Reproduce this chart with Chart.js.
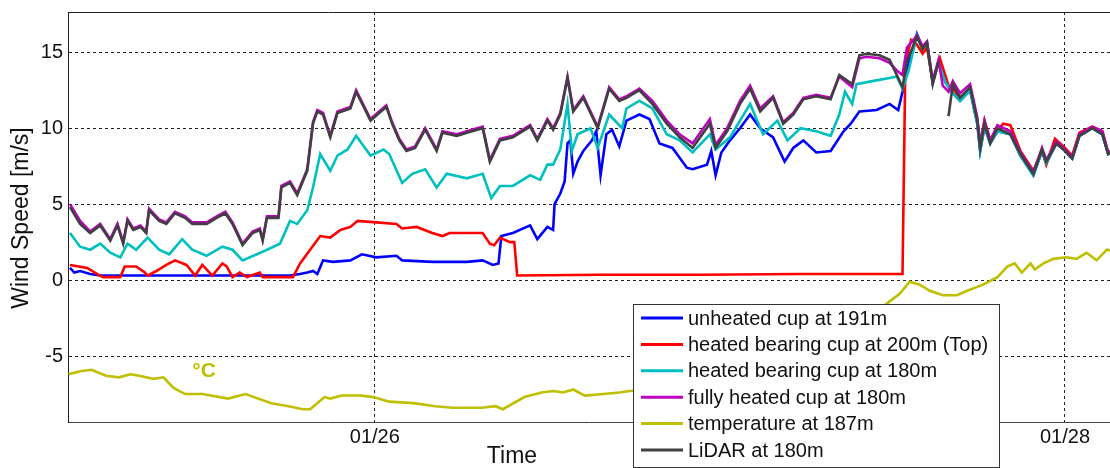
<!DOCTYPE html>
<html>
<head>
<meta charset="utf-8">
<script src="https://cdn.jsdelivr.net/npm/chart.js@4.4.0/dist/chart.umd.min.js"></script>
<style>
  html, body { margin: 0; padding: 0; background: #fff; }
  canvas { display: block; }
</style>
</head>
<body>
<canvas id="wind" width="1110" height="468"></canvas>
<script>
// time in hours since 01/25 00:00
const xTicks = [24, 72];
const xTickLabels = ['01/26', '01/28'];
const yTicks = [-5, 0, 5, 10, 15];

const lidarT = [2.8,3.5,4.2,4.9,5.6,6.1,6.5,6.8,7.2,7.7,8.1,8.3,9.0,9.5,10.1,10.8,11.3,12.3,13.0,13.6,14.1,14.8,15.5,16.0,16.2,16.5,17.3,17.5,18.1,18.6,19.3,19.7,20.0,20.4,20.9,21.4,22.3,22.7,23.7,24.3,24.8,25.2,25.7,26.2,26.8,27.5,28.3,28.7,29.7,30.4,31.5,32.0,32.7,33.6,34.8,35.3,36.0,36.4,36.9,37.4,37.8,38.5,39.5,40.3,41.0,41.5,42.4,43.3,44.3,45.2,46.1,47.3,47.7,48.5,49.4,50.1,50.8,51.7,52.4,53.1,53.8,54.7,55.7,56.3,57.2,57.7,58.2,59.1,59.8,60.3,60.7,61.0,61.7,62.1,62.4,62.8,63.2,63.5,63.9,64.2,64.7,65.4,65.9,66.1,66.4,66.8,67.3,68.2,68.9,69.8,70.4,70.7,71.4,71.9,72.5,73.0,73.9,74.6,75.0,75.5];
const lidarV = [4.8,3.7,3.1,3.6,2.6,3.6,2.4,3.9,3.3,3.5,3.1,4.6,3.9,3.7,4.4,4.1,3.7,3.7,4.1,4.4,3.7,2.3,3.1,3.3,2.6,4.1,4.1,6.1,6.4,5.6,7.2,10.3,11.1,10.9,9.4,11.0,11.3,12.4,10.5,11.0,11.4,10.3,9.2,8.5,8.7,9.9,8.5,9.7,9.5,9.7,10.0,7.8,9.2,9.4,10.1,9.2,10.5,9.9,10.9,13.3,11.1,12.0,10.0,12.6,11.8,12.0,12.5,11.6,10.3,9.4,8.7,10.3,8.7,9.8,11.6,12.6,11.1,12.0,10.3,10.9,11.9,12.1,11.9,13.5,12.9,14.8,14.9,14.8,14.5,13.5,12.7,14.4,16.0,15.2,15.6,12.9,14.4,null,10.8,12.9,12.0,12.7,10.5,8.7,10.3,9.0,10.0,9.6,8.3,7.0,8.6,7.8,9.0,8.6,8.0,9.5,10.0,9.6,8.3,8.5];
// fully heated cup, same time stamps as the LiDAR
const fullyV = [5.0,3.9,3.2,3.7,2.7,3.7,2.5,4.0,3.4,3.6,3.2,4.7,4.0,3.8,4.5,4.2,3.8,3.8,4.2,4.5,3.8,2.4,3.2,3.4,2.7,4.2,4.2,6.2,6.5,5.7,7.3,10.4,11.2,11.0,9.5,11.1,11.4,12.5,10.6,11.1,11.5,10.4,9.3,8.6,8.8,10.0,8.6,9.8,9.6,9.8,10.1,7.9,9.3,9.5,10.2,9.3,10.6,10.0,11.0,13.4,11.2,12.1,10.1,12.7,11.9,12.1,12.6,11.8,10.5,9.6,9.0,10.6,8.9,10.0,11.8,12.8,11.3,12.1,10.4,11.0,12.0,12.2,12.0,13.4,12.7,14.6,14.7,14.6,14.3,13.8,13.5,15.3,16.1,15.4,15.7,13.1,14.5,12.8,12.4,13.1,12.3,12.9,10.7,9.0,10.5,9.2,10.2,9.8,8.4,7.1,8.7,7.9,9.1,8.7,8.1,9.6,10.1,9.8,8.4,8.6];

const cyanT = [2.8,3.5,4.2,4.9,5.6,6.3,6.8,7.4,8.2,9.0,9.7,10.6,11.3,12.3,13.4,14.1,14.8,15.8,16.5,17.4,18.1,18.6,19.3,19.7,20.2,20.9,21.4,22.1,22.7,23.7,24.6,25.0,25.9,26.6,27.5,28.3,29.0,30.4,31.5,32.1,32.7,33.6,34.8,35.5,36.0,36.4,36.9,37.0,37.4,37.7,38.1,39.0,39.5,40.3,41.2,41.5,42.4,43.3,44.3,45.2,46.1,47.3,47.7,48.7,50.1,51.0,52.0,52.7,53.6,54.7,55.7,56.3,56.7,57.2,57.5,58.6,59.8,60.3,60.7,61.1,61.7,62.1,62.4,62.8,63.2,63.7,64.2,64.7,65.4,65.9,66.1,66.4,66.8,67.3,68.2,68.9,69.8,70.4,70.7,71.4,71.9,72.5,73.0,73.9,74.6,75.0,75.5];
const cyanV = [3.1,2.2,2.0,2.4,1.8,1.5,2.4,2.0,2.8,2.0,1.7,2.7,2.0,1.6,2.2,2.0,1.3,1.7,2.0,2.4,3.9,3.7,4.6,6.1,8.3,7.2,8.2,8.6,9.5,8.2,8.6,8.3,6.4,7.0,7.3,6.1,7.0,6.7,7.0,5.4,6.2,6.2,6.9,6.6,7.6,7.6,8.6,9.2,11.6,8.5,9.6,10.0,8.7,10.9,10.0,11.3,11.8,11.3,9.6,9.2,8.4,9.6,8.6,9.4,11.6,9.6,10.5,9.2,10.0,9.8,9.5,10.9,12.4,11.6,12.9,13.1,13.3,13.4,12.6,13.7,16.1,15.3,15.7,13.0,14.3,13.0,12.3,11.8,12.5,10.3,8.5,10.1,9.0,9.8,9.6,8.2,6.9,8.5,7.7,9.0,8.6,8.0,9.5,10.0,9.6,8.3,8.5];

const blueT = [2.8,3.1,3.5,4.2,4.9,6.0,8.0,10.0,12.0,14.0,16.0,17.4,18.1,18.8,19.3,19.7,20.0,20.4,21.1,22.3,23.1,24.1,25.5,25.9,28.0,30.4,31.5,32.2,32.6,32.8,33.6,34.8,35.3,36.0,36.4,36.5,36.9,37.2,37.4,37.6,37.8,38.1,38.5,39.1,39.4,39.7,40.1,40.5,41.0,41.5,42.4,43.1,43.8,44.7,45.7,46.1,47.1,47.4,47.7,48.1,48.7,49.4,50.1,50.8,51.7,52.5,53.1,53.8,54.7,55.7,56.6,57.1,57.7,58.9,59.8,60.4,60.7,61.1,61.7,62.1,62.4,62.8,63.2,63.7,64.2,64.7,65.4,65.9,66.1,66.4,66.8,67.3,68.2,68.9,69.8,70.4,70.7,71.4,71.9,72.5,73.0,73.9,74.6,75.0,75.5];
const blueV = [0.8,0.5,0.6,0.4,0.3,0.3,0.3,0.3,0.3,0.3,0.3,0.3,0.3,0.4,0.5,0.6,0.4,1.3,1.2,1.3,1.7,1.5,1.6,1.3,1.2,1.2,1.3,1.0,1.1,2.9,3.1,3.6,2.7,3.5,3.3,5.0,5.7,6.5,9.0,9.2,7.0,7.8,8.5,9.2,9.8,6.9,9.6,9.9,8.8,10.5,10.9,10.6,9.0,8.7,7.4,7.3,7.6,8.5,6.9,8.4,9.2,10.0,10.9,10.0,9.4,7.8,8.7,9.2,8.4,8.5,9.8,10.3,11.1,11.2,11.6,11.2,12.4,14.2,16.2,15.3,15.6,13.0,14.3,13.0,12.3,11.8,12.5,10.3,8.5,10.1,9.0,9.8,9.6,8.2,6.9,8.5,7.7,9.0,8.6,8.0,9.5,10.0,9.6,8.3,8.5];

const redT = [2.8,4.0,4.7,5.1,6.3,6.6,7.4,8.0,8.2,8.8,9.5,10.1,10.9,11.5,12.0,12.7,13.4,13.7,14.1,14.6,15.1,16.0,16.2,18.3,18.8,19.5,20.2,20.9,21.6,22.3,22.8,24.1,25.5,25.9,26.9,28.0,28.7,29.2,30.4,31.5,32.0,32.3,32.7,33.4,33.7,33.9,39.7,46.6,53.6,60.7,60.9,61.3,61.7,62.1,62.4,62.8,63.3,63.9,64.2,64.7,65.4,65.9,66.1,66.4,66.8,67.7,68.2,68.9,69.8,70.4,70.7,71.3,71.9,72.5,73.0,73.9,74.6,75.0,75.5];
const redV = [1.0,0.8,0.4,0.2,0.2,0.9,0.9,0.5,0.3,0.6,1.0,1.3,1.0,0.3,1.0,0.3,1.1,0.9,0.2,0.5,0.2,0.5,0.2,0.2,1.1,2.0,2.9,2.8,3.3,3.5,3.9,3.8,3.7,3.4,3.5,3.1,2.9,3.1,3.1,3.1,2.4,2.3,2.8,2.5,2.5,0.3,0.35,0.35,0.4,0.4,14.4,15.8,15.5,14.9,15.3,13.1,14.6,12.8,12.6,12.0,12.6,10.5,8.8,10.5,9.2,10.3,10.2,8.5,7.2,8.5,7.6,9.3,8.8,8.2,9.7,10.1,9.8,8.4,8.6];

const tempT = [2.7,3.5,4.3,5.3,6.2,7.0,7.6,8.6,9.3,10.0,10.8,12.0,13.8,15.0,16.8,18.0,19.0,19.5,20.5,20.9,21.7,23.0,23.9,25.0,26.7,28.2,29.4,31.4,32.4,32.9,34.4,35.6,36.4,37.1,37.8,38.6,39.9,41.0,41.7,43.8,46.6,50.1,53.6,56.3,58.4,59.8,60.5,61.2,61.9,62.6,63.5,64.5,65.2,66.3,67.3,68.0,68.5,69.0,69.6,69.9,70.5,71.2,72.1,72.8,73.5,74.2,74.9,75.5];
const tempV = [-6.2,-6.0,-5.9,-6.3,-6.4,-6.2,-6.3,-6.5,-6.4,-7.1,-7.5,-7.5,-7.8,-7.5,-8.1,-8.3,-8.5,-8.5,-7.7,-7.8,-7.6,-7.6,-7.7,-8.0,-8.1,-8.3,-8.4,-8.4,-8.3,-8.5,-7.7,-7.4,-7.3,-7.4,-7.2,-7.6,-7.5,-7.4,-7.3,-7.2,-7.0,-6.5,-5.5,-4.0,-2.5,-1.4,-0.9,-0.1,-0.3,-0.7,-1.0,-1.0,-0.7,-0.3,0.2,0.9,1.1,0.5,1.1,0.7,1.1,1.4,1.5,1.4,1.8,1.3,2.0,1.9];

const FONT = '"Liberation Sans", Arial, sans-serif';
const pts = (t, v) => t.map((x, i) => ({ x, y: v[i] }));

function series(label, color, t, v, order) {
  return {
    label, data: pts(t, v), borderColor: color, backgroundColor: color,
    borderWidth: 2.6, pointRadius: 0, tension: 0, spanGaps: false, order,
  };
}

const frame = {
  id: 'frame',
  afterDraw(chart) {
    const { ctx, chartArea: a, scales: { x, y } } = chart;
    ctx.save();
    ctx.strokeStyle = '#222';
    ctx.lineWidth = 1;
    ctx.beginPath();
    ctx.moveTo(a.left, a.top + 0.5);
    ctx.lineTo(a.right, a.top + 0.5);
    ctx.stroke();

    // degree label next to the temperature curve
    ctx.fillStyle = '#bfbf00';
    ctx.font = 'bold 21px ' + FONT;
    ctx.textBaseline = 'alphabetic';
    ctx.fillText('°C', x.getPixelForValue(11.3), y.getPixelForValue(-6.4));

    // axis titles
    ctx.fillStyle = '#111';
    ctx.font = '23px ' + FONT;
    ctx.textAlign = 'center';
    ctx.textBaseline = 'middle';
    ctx.fillText('Time', 512, 457);
    ctx.save();
    ctx.translate(22, 218);
    ctx.rotate(-Math.PI / 2);
    ctx.fillText('Wind Speed [m/s]', 0, 0);
    ctx.restore();

    // legend box
    const bx = 633.5, by = 304.5, bw = 366, bh = 163;
    ctx.fillStyle = '#fff';
    ctx.fillRect(bx, by, bw, bh);
    ctx.strokeStyle = '#333';
    ctx.strokeRect(bx, by, bw, bh);
    ctx.font = '20px ' + FONT;
    ctx.textAlign = 'left';
    chart.data.datasets.forEach((ds, i) => {
      const ry = 318 + i * 26.4;
      ctx.strokeStyle = ds.borderColor;
      ctx.lineWidth = 3;
      ctx.beginPath();
      ctx.moveTo(641, ry);
      ctx.lineTo(683, ry);
      ctx.stroke();
      ctx.fillStyle = '#111';
      ctx.fillText(ds.label, 688, ry + 1);
    });
    ctx.restore();
  }
};

new Chart(document.getElementById('wind'), {
  type: 'line',
  data: {
    datasets: [
      series('unheated cup at 191m', '#0000ff', blueT, blueV, 5),
      series('heated bearing cup at 200m (Top)', '#ff0000', redT, redV, 4),
      series('heated bearing cup at 180m', '#00bfbf', cyanT, cyanV, 3),
      series('fully heated cup at 180m', '#bf00bf', lidarT, fullyV, 2),
      series('temperature at 187m', '#bfbf00', tempT, tempV, 1),
      series('LiDAR at 180m', '#404040', lidarT, lidarV, 0),
    ],
  },
  options: {
    responsive: false,
    animation: false,
    devicePixelRatio: 1,
    layout: { padding: { top: 12, left: 0, right: 0, bottom: 0 } },
    plugins: { legend: { display: false }, tooltip: { enabled: false } },
    scales: {
      x: {
        type: 'linear', min: 2.66, max: 75.13,
        afterBuildTicks: s => { s.ticks = xTicks.map(value => ({ value })); },
        afterFit: s => { s.height = 46; s.paddingLeft = 0; s.paddingRight = 0; },
        ticks: {
          autoSkip: false, maxRotation: 0, padding: 3, color: '#111',
          font: { family: FONT, size: 20 },
          callback: v => xTickLabels[xTicks.indexOf(v)],
        },
        grid: { color: '#222', lineWidth: 1, drawTicks: false },
        border: { display: true, color: '#444', width: 1, dash: [3, 3] },
      },
      y: {
        min: -9.34, max: 17.65,
        afterBuildTicks: s => { s.ticks = yTicks.map(value => ({ value })); },
        afterFit: s => { s.width = 68; s.paddingTop = 0; s.paddingBottom = 0; },
        ticks: { padding: 5, color: '#111', font: { family: FONT, size: 20 } },
        grid: { color: '#222', lineWidth: 1, drawTicks: false },
        border: { display: true, color: '#222', width: 1, dash: [3, 3] },
      },
    },
  },
  plugins: [frame],
});
</script>
</body>
</html>
